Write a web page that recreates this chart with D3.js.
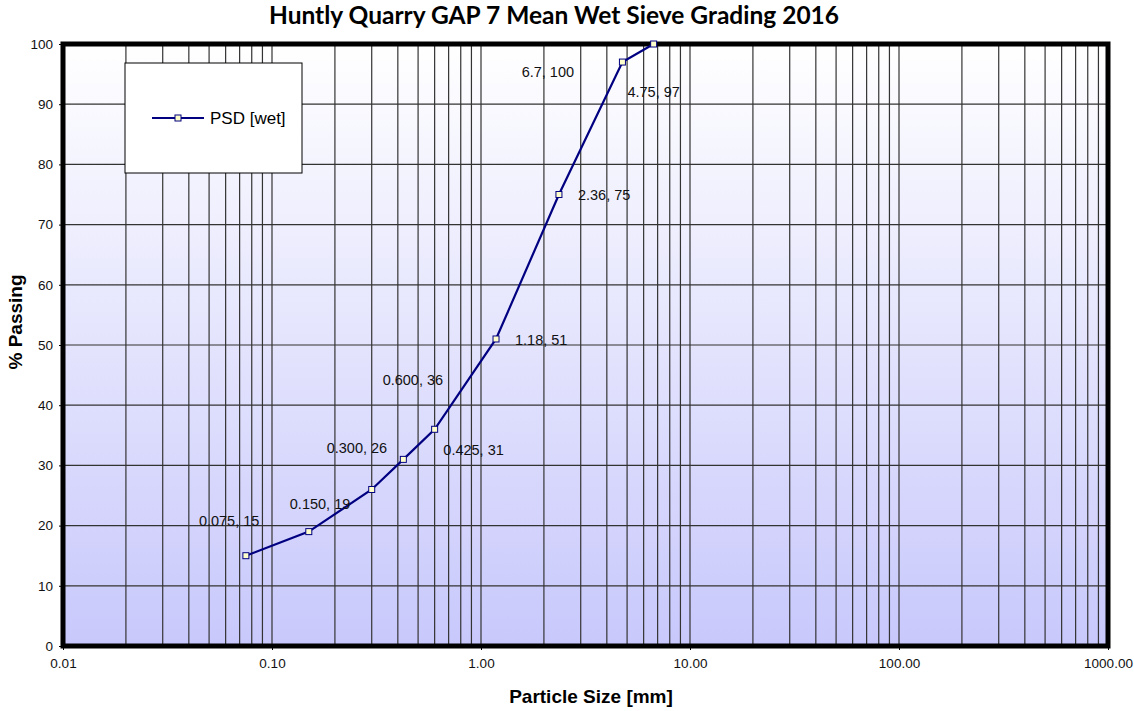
<html>
<head>
  <script src="https://d3js.org/d3.v7.min.js"></script>
  <style>
    body { margin: 0; background: white; }
  </style>
</head>
<body>
  <svg id="chart" width="1134" height="711" font-family="'Liberation Sans', Arial, sans-serif"></svg>
  <script>
    // sieve sizes (mm) and % passing
    const sizes = [0.075, 0.150, 0.300, 0.425, 0.600, 1.18, 2.36, 4.75, 6.7];
    const passing = [15, 19, 26, 31, 36, 51, 75, 97, 100];
    const pointLabels = ["0.075, 15", "0.150, 19", "0.300, 26", "0.425, 31", "0.600, 36",
      "1.18, 51", "2.36, 75", "4.75, 97", "6.7, 100"];
    const xTicks = [0.01, 0.1, 1, 10, 100, 1000];
    const xTickLabels = ["0.01", "0.10", "1.00", "10.00", "100.00", "1000.00"];
    const yTicks = [0, 10, 20, 30, 40, 50, 60, 70, 80, 90, 100];

    // label offsets from the marker, as placed in the original
    const labelOffsets = [[-47, -35], [-19, -28], [-45, -42], [40, -9], [-52, -49],
      [19, 1], [19, 0], [5, 30], [-132, 28]];

    const svg = d3.select("#chart");
    const margin = { top: 44, right: 26, bottom: 65, left: 63 };
    const w = 1134 - margin.left - margin.right;
    const h = 711 - margin.top - margin.bottom;

    const x = d3.scaleLog().domain([0.01, 1000]).range([0, w]);
    const y = d3.scaleLinear().domain([0, 100]).range([h, 0]);

    const defs = svg.append("defs");
    const grad = defs.append("linearGradient").attr("id", "bg")
      .attr("x1", 0).attr("y1", 0).attr("x2", 0).attr("y2", 1);
    grad.append("stop").attr("offset", "0%").attr("stop-color", "#ffffff");
    grad.append("stop").attr("offset", "100%").attr("stop-color", "#c8c8fc");

    const g = svg.append("g").attr("transform", `translate(${margin.left},${margin.top})`);

    g.append("rect").attr("width", w).attr("height", h).attr("fill", "url(#bg)");

    // vertical gridlines at 1..9 of every decade
    let minor = [];
    for (let d = -2; d < 3; d++) {
      for (let k = 1; k <= 9; k++) minor.push(k * Math.pow(10, d));
    }
    minor.push(1000);
    g.append("g").selectAll("line").data(minor).join("line")
      .attr("x1", d => x(d)).attr("x2", d => x(d))
      .attr("y1", 0).attr("y2", h)
      .attr("stroke", "#333").attr("stroke-width", 1.2);

    g.append("g").selectAll("line").data(yTicks).join("line")
      .attr("x1", 0).attr("x2", w)
      .attr("y1", d => y(d)).attr("y2", d => y(d))
      .attr("stroke", "#333").attr("stroke-width", 1.2);

    // axes
    const yAxis = g.append("g")
      .call(d3.axisLeft(y).tickValues(yTicks).tickSize(4).tickPadding(6));
    yAxis.select(".domain").remove();
    yAxis.selectAll("text").attr("font-size", 13.5).attr("fill", "#111")
      .attr("font-family", "'Liberation Sans', Arial, sans-serif");

    const xAxis = g.append("g").attr("transform", `translate(0,${h})`)
      .call(d3.axisBottom(x).tickValues(xTicks).tickSize(4).tickPadding(8)
        .tickFormat((d, i) => xTickLabels[i]));
    xAxis.select(".domain").remove();
    xAxis.selectAll("text").attr("font-size", 13.5).attr("fill", "#111")
      .attr("font-family", "'Liberation Sans', Arial, sans-serif");

    // frame
    g.append("rect").attr("width", w).attr("height", h)
      .attr("fill", "none").attr("stroke", "#000").attr("stroke-width", 5);

    const pts = sizes.map((s, i) => [x(s), y(passing[i])]);
    g.append("path").datum(pts)
      .attr("d", d3.line())
      .attr("fill", "none").attr("stroke", "#000080").attr("stroke-width", 2.2);

    g.append("g").selectAll("rect").data(pts).join("rect")
      .attr("x", d => d[0] - 3).attr("y", d => d[1] - 3)
      .attr("width", 6).attr("height", 6)
      .attr("fill", "#ffffcc").attr("stroke", "#000080").attr("stroke-width", 1);

    g.append("g").selectAll("text").data(pointLabels).join("text")
      .attr("x", (d, i) => pts[i][0] + labelOffsets[i][0])
      .attr("y", (d, i) => pts[i][1] + labelOffsets[i][1])
      .attr("dy", "0.35em")
      .attr("font-size", 14.5).attr("fill", "#111")
      .text(d => d);

    // legend
    const lg = svg.append("g").attr("transform", "translate(125,63)");
    lg.append("rect").attr("width", 177).attr("height", 110)
      .attr("fill", "#fff").attr("stroke", "#000").attr("stroke-width", 1);
    lg.append("line").attr("x1", 27).attr("x2", 79).attr("y1", 55).attr("y2", 55)
      .attr("stroke", "#000080").attr("stroke-width", 2.2);
    lg.append("rect").attr("x", 50).attr("y", 52).attr("width", 6).attr("height", 6)
      .attr("fill", "#ffffcc").attr("stroke", "#000080");
    lg.append("text").attr("x", 85).attr("y", 55).attr("dy", "0.35em")
      .attr("font-size", 17).text("PSD [wet]");

    // titles
    svg.append("text").attr("x", 554).attr("y", 24).attr("text-anchor", "middle")
      .attr("font-family", "Lato, 'Open Sans', sans-serif").attr("font-weight", "bold")
      .attr("font-size", 24.5).text("Huntly Quarry GAP 7 Mean Wet Sieve Grading 2016");

    svg.append("text").attr("x", 591).attr("y", 703).attr("text-anchor", "middle")
      .attr("font-weight", "bold").attr("font-size", 19).text("Particle Size [mm]");

    svg.append("text").attr("transform", "translate(22,322) rotate(-90)")
      .attr("text-anchor", "middle")
      .attr("font-weight", "bold").attr("font-size", 19).text("% Passing");
  </script>
</body>
</html>
